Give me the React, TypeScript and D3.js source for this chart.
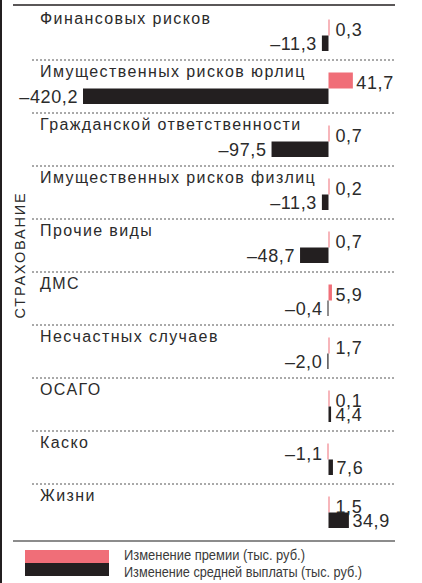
import React from "react";
import * as d3 from "d3";

const categories = [
  "Финансовых рисков",
  "Имущественных рисков юрлиц",
  "Гражданской ответственности",
  "Имущественных рисков физлиц",
  "Прочие виды",
  "ДМС",
  "Несчастных случаев",
  "ОСАГО",
  "Каско",
  "Жизни",
];
const premiumChange = [0.3, 41.7, 0.7, 0.2, 0.7, 5.9, 1.7, 0.1, -1.1, 1.5];
const payoutChange = [-11.3, -420.2, -97.5, -11.3, -48.7, -0.4, -2.0, 4.4, 7.6, 34.9];
const legendLabels = [
  "Изменение премии (тыс. руб.)",
  "Изменение средней выплаты (тыс. руб.)",
];
const legendWidths = [181, 238];
const sideTitle = "СТРАХОВАНИЕ";

const PINK = "#f06e78";
const DARK = "#231f20";
const TEXT = "#2b2b2b";
const W = 422;
const H = 583;

const fmt = (v: number) => {
  const s = Math.abs(v).toFixed(1).replace(".", ",");
  return v < 0 ? "\u2013" + s : s;
};

export default function App() {
  const x = d3.scaleLinear().domain([-420.2, 0]).range([83, 328.5]);
  const rowTop = (i: number) => (i === 0 ? 7 : 60 + 53 * (i - 1));
  const x0 = x(0);
  const font = "'Liberation Sans', Arial, Helvetica, sans-serif";

  const bar = (v: number, y: number, h: number, color: string, key: string) => {
    const a = x(Math.min(0, v));
    const b = x(Math.max(0, v));
    const w = Math.max(1, b - a);
    const left = v < 0 ? b - w : a;
    return <rect key={key} x={left} y={y} width={w} height={h} fill={color} />;
  };

  const valueLabel = (v: number, baseline: number, key: string) => {
    if (v < 0) {
      const a = Math.min(x(v), x0 - 1);
      return (
        <text key={key} x={a - 5} y={baseline} textAnchor="end" fontSize={18} fill={TEXT} fontFamily={font} letterSpacing={0.6}>
          {fmt(v)}
        </text>
      );
    }
    const e = x(v);
    return (
      <text key={key} x={Math.max(x0 + 7, e + 3.5)} y={baseline} fontSize={18} fill={TEXT} fontFamily={font} letterSpacing={0.6}>
        {fmt(v)}
      </text>
    );
  };

  return (
    <svg width={W} height={H} style={{ position: "absolute", left: 0, top: 0, background: "#fff" }}>
      <rect x={0} y={0} width={W} height={H} fill="#fff" />
      <line x1={1} x2={1} y1={0} y2={H} stroke={DARK} strokeWidth={2} />
      <line x1={13} x2={395} y1={5} y2={5} stroke={DARK} strokeWidth={1.5} />
      <line x1={13} x2={395} y1={541} y2={541} stroke="#666" strokeWidth={1.5} />
      <text
        transform={`translate(25,255) rotate(-90)`}
        textAnchor="middle"
        fontSize={14.5}
        letterSpacing={1.8}
        fill={TEXT}
        fontFamily={font}
      >
        {sideTitle}
      </text>
      {categories.map((c, i) => {
        const t = rowTop(i);
        const pY = t + 12.5;
        const bY = t + 28.5;
        return (
          <g key={c}>
            {i > 0 && (
              <line x1={32} x2={395} y1={t} y2={t} stroke="#555" strokeWidth={1} strokeDasharray="2 2" />
            )}
            <text x={40} y={t + 17} fontSize={16} letterSpacing={1.4} fill={TEXT} fontFamily={font}>
              {c}
            </text>
            {bar(premiumChange[i], pY, 16, PINK, "p")}
            {bar(payoutChange[i], bY, 15.5, DARK, "b")}
            {valueLabel(premiumChange[i], pY + 16, "pl")}
            {valueLabel(payoutChange[i], bY + 14.5, "bl")}
          </g>
        );
      })}
      <rect x={25} y={550} width={84} height={13} fill={PINK} />
      <rect x={25} y={563} width={84} height={13} fill={DARK} />
      {legendLabels.map((l, i) => (
        <text
          key={l}
          x={124}
          y={560 + i * 16.5}
          fontSize={14}
          fill="#3a3a3a"
          fontFamily={font}
          textLength={legendWidths[i]}
          lengthAdjust="spacingAndGlyphs"
        >
          {l}
        </text>
      ))}
    </svg>
  );
}
